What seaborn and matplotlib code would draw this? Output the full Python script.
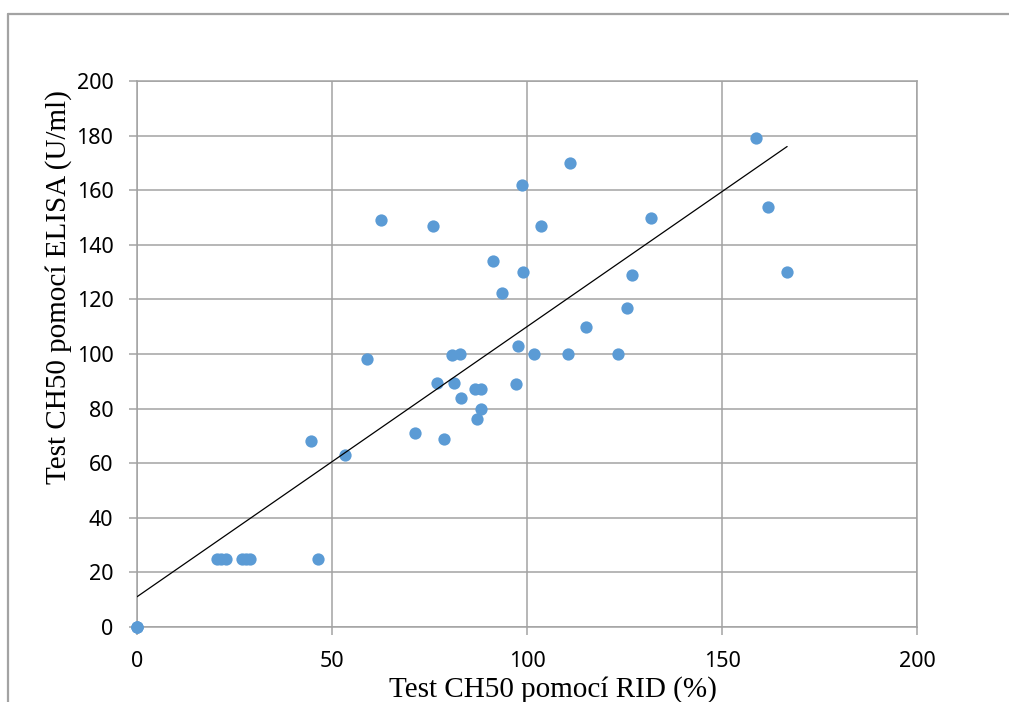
import numpy as np
import pandas as pd
import matplotlib.pyplot as plt
import seaborn as sns
from matplotlib.lines import Line2D

# CH50 values (three samples sit on top of each other at 0,0)
rid = [0, 0, 0, 20.5, 21.5, 22.8, 27.0, 28.0, 29.0, 46.3, 44.6, 53.3, 58.9, 62.5,
       75.8, 76.8, 71.2, 78.6, 80.7, 82.7, 81.4, 83.2, 86.6, 88.1, 87.1, 88.3,
       91.2, 93.7, 97.1, 97.8, 98.6, 99.1, 101.7, 103.7, 110.9, 110.4, 115.2,
       123.4, 125.7, 126.8, 131.9, 158.8, 161.8, 166.7]
elisa = [0, 0, 0, 25, 25, 25, 25, 25, 25, 25, 68, 63, 98, 149,
         147, 89.5, 71, 69, 99.6, 100, 89.5, 84, 87, 87, 76.3, 80,
         134, 122.5, 89, 103, 162, 130, 100, 147, 170, 100, 110,
         100, 117, 129, 150, 179, 154, 130]

x_ticks = [0, 50, 100, 150, 200]
y_ticks = [0, 20, 40, 60, 80, 100, 120, 140, 160, 180, 200]

df = pd.DataFrame({"RID": rid, "ELISA": elisa})

sns.set_style("white")
plt.rcParams["font.family"] = ["Noto Sans", "DejaVu Sans"]

grid_col = "#a3a3a3"
fig = plt.figure(figsize=(10.09, 7.02), dpi=100)
ax = fig.add_axes([137 / 1009, 1 - 627 / 702, 780 / 1009, 546 / 702])

sns.regplot(data=df, x="RID", y="ELISA", ax=ax, ci=None, truncate=True,
            scatter_kws={"s": 78, "color": "#5B9BD5", "alpha": 1,
                         "linewidths": 0, "clip_on": False, "zorder": 3},
            line_kws={"color": "black", "lw": 0.9, "zorder": 4})

ax.set_xlim(0, 200)
ax.set_ylim(0, 200)
ax.set_xticks(x_ticks)
ax.set_yticks(y_ticks)
ax.grid(True, color=grid_col, lw=1.1)
ax.set_axisbelow(True)
for s in ax.spines.values():
    s.set_color(grid_col)
    s.set_linewidth(1.1)
ax.tick_params(axis="both", length=6, width=1.1, color=grid_col,
               labelsize=15.5, labelcolor="black", pad=11,
               bottom=True, left=True)

ax.set_xlabel("Test CH50 pomocí RID (%)", family="Liberation Serif",
              fontsize=21, color="black")
ax.set_ylabel("Test CH50 pomocí ELISA (U/ml)", family="Liberation Serif",
              fontsize=21, color="black")
ax.xaxis.set_label_coords(0.533, -0.114)
ax.yaxis.set_label_coords(-0.101, 0.623)
ax.xaxis.label.set_va("center")
ax.yaxis.label.set_va("center")

# outer chart frame (partially cropped)
fig.add_artist(Line2D([8 / 1009, 1.0], [1 - 13.5 / 702] * 2,
                      transform=fig.transFigure, color=grid_col, lw=1.6))
fig.add_artist(Line2D([8 / 1009] * 2, [0, 1 - 13.5 / 702],
                      transform=fig.transFigure, color=grid_col, lw=1.6))

fig.savefig("out.png", dpi=100)
